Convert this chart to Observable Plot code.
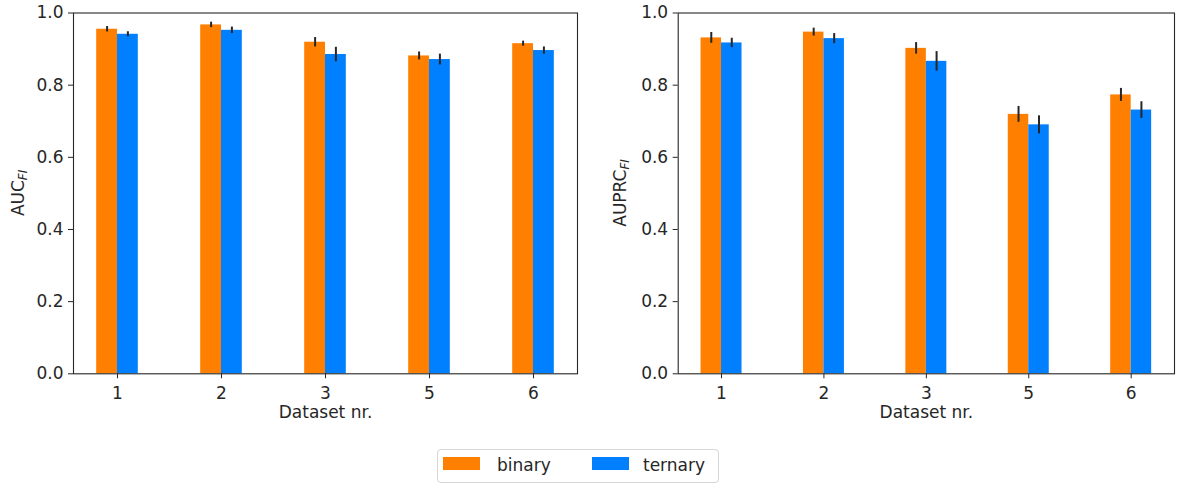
<!DOCTYPE html>
<html><head><meta charset="utf-8">
<script src="https://cdn.jsdelivr.net/npm/d3@7"></script>
<script src="https://cdn.jsdelivr.net/npm/@observablehq/plot@0.6"></script>
<style>
body{margin:0;background:#fff;font-family:"DejaVu Sans",sans-serif;}
#wrap{position:relative;width:1177px;height:483px;overflow:hidden;}
.panel{position:absolute;top:0;}
#legend{position:absolute;left:437px;top:449px;width:282px;height:34px;border:1px solid #d6d6d6;border-radius:4px;box-sizing:border-box;font-size:17px;color:#262626;}
.sw{position:absolute;top:7px;width:37px;height:13px;}
.lt{position:absolute;top:5px;line-height:20px;}
</style></head>
<body><div id="wrap"></div>
<script>
const datasets = ["1", "2", "3", "5", "6"];
const series = ["binary", "ternary"];
const colors = ["#ff7f00", "#007fff"];
const yTicks = [0, 0.2, 0.4, 0.6, 0.8, 1.0];

const aucBinary = [0.955, 0.967, 0.919, 0.881, 0.915];
const aucBinaryErr = [0.0075, 0.0075, 0.013, 0.011, 0.007];
const aucTernary = [0.941, 0.952, 0.885, 0.871, 0.896];
const aucTernaryErr = [0.007, 0.009, 0.02, 0.015, 0.01];

const auprcBinary = [0.931, 0.947, 0.902, 0.719, 0.773];
const auprcBinaryErr = [0.015, 0.011, 0.016, 0.022, 0.018];
const auprcTernary = [0.917, 0.929, 0.866, 0.690, 0.731];
const auprcTernaryErr = [0.013, 0.014, 0.027, 0.025, 0.023];

function rowsOf(b, be, t, te) {
  const rows = [];
  datasets.forEach((d, i) => {
    rows.push({i, series: "binary", value: b[i], err: be[i]});
    rows.push({i, series: "ternary", value: t[i], err: te[i]});
  });
  return rows;
}

const INK = "#262626";
const FS = 17;

function panel(rows, opts) {
  const off = d => d.series === "binary" ? -0.2 : 0;
  const svg = Plot.plot({
    width: opts.width, height: 430,
    marginLeft: opts.ml, marginRight: opts.mr, marginTop: 12.5, marginBottom: 56.7,
    style: {fontFamily: "DejaVu Sans", fontSize: FS + "px", color: INK, background: "white"},
    x: {type: "linear", domain: [-0.423, 4.423]},
    y: {domain: [0, 1]},
    color: {domain: series, range: colors},
    marks: [
      Plot.rect(rows, {x1: d => d.i + off(d), x2: d => d.i + off(d) + 0.2, y1: 0, y2: "value", fill: "series"}),
      Plot.ruleX(rows, {x: d => d.i + off(d) + 0.1, y1: d => d.value - d.err, y2: d => d.value + d.err, stroke: INK, strokeWidth: 2}),
      Plot.axisX({ticks: [0, 1, 2, 3, 4], tickFormat: i => datasets[i], tickSize: 5, tickPadding: 8, label: null, fontSize: FS}),
      Plot.axisY({ticks: yTicks, tickFormat: d => d.toFixed(1), tickSize: 5, tickPadding: 5, label: null, fontSize: FS}),
      Plot.text(["Dataset nr."], {frameAnchor: "bottom", lineAnchor: "middle", dy: 38.6, fontSize: FS, fill: INK}),
      Plot.frame({stroke: INK, strokeWidth: 1.1})
    ]
  });
  const t = d3.select(svg).append("text")
    .attr("transform", `translate(${opts.lx},${(12.5 + 373.3) / 2}) rotate(-90)`)
    .attr("text-anchor", "middle")
    .attr("fill", INK)
    .attr("font-size", FS)
    .attr("font-family", "DejaVu Sans");
  t.append("tspan").text(opts.label);
  t.append("tspan").text("FI").attr("font-style", "italic").attr("font-size", 12).attr("dy", 3);
  svg.classList.add("panel");
  svg.style.left = opts.left + "px";
  svg.style.position = "absolute";
  svg.style.top = "0px";
  return svg;
}

const wrap = document.getElementById("wrap");
wrap.appendChild(panel(rowsOf(aucBinary, aucBinaryErr, aucTernary, aucTernaryErr),
  {width: 590, ml: 73, mr: 13, left: 0, lx: 23.5, label: "AUC"}));
wrap.appendChild(panel(rowsOf(auprcBinary, auprcBinaryErr, auprcTernary, auprcTernaryErr),
  {width: 577, ml: 77.7, mr: 3, left: 600, lx: 26, label: "AUPRC"}));

const legend = document.createElement("div");
legend.id = "legend";
const lpos = [[5, 59], [154, 205]];
series.forEach((s, k) => {
  const sw = document.createElement("div");
  sw.className = "sw"; sw.style.left = lpos[k][0] + "px"; sw.style.background = colors[k];
  const lt = document.createElement("div");
  lt.className = "lt"; lt.style.left = lpos[k][1] + "px"; lt.textContent = s;
  legend.appendChild(sw); legend.appendChild(lt);
});
wrap.appendChild(legend);
</script>
</body></html>
